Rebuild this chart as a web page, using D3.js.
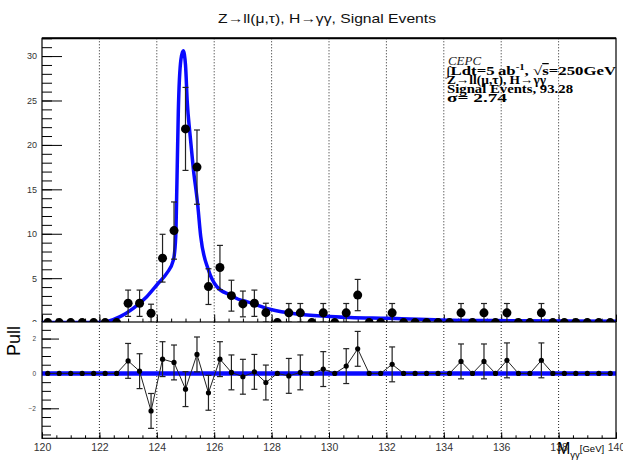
<!DOCTYPE html>
<html><head><meta charset="utf-8">
<script src="https://cdn.jsdelivr.net/npm/d3@7"></script>
<style>
body{margin:0;background:#fff}
svg{display:block}
text{font-family:"Liberation Sans",Arial,sans-serif}
.serif{font-family:"Liberation Serif","Times New Roman",serif}
</style>
</head><body>
<svg id="c" width="623" height="462"></svg>
<script>
// ---- data ----
const binCenters=[120.2,120.6,121.0,121.4,121.8,122.2,122.6,123.0,123.4,123.8,124.2,124.6,125.0,125.4,125.8,126.2,126.6,127.0,127.4,127.8,128.2,128.6,129.0,129.4,129.8,130.2,130.6,131.0,131.4,131.8,132.2,132.6,133.0,133.4,133.8,134.2,134.6,135.0,135.4,135.8,136.2,136.6,137.0,137.4,137.8,138.2,138.6,139.0,139.4,139.8];
const counts=[0,0,0,0,0,0,0,2.18,2.18,1.05,7.25,10.36,21.8,17.5,4.05,6.2,3.03,2.1,2.18,1.12,0,1.1,1.1,0,1.1,0,1.1,3.1,0,0,1.1,0,0,0,0,0,1.1,0,1.1,0,1.1,0,0,1.1,0,0,0,0,0,0];
const countErrors=[0,0,0,0,0,0,0,1.48,1.48,1.02,2.69,3.22,4.67,4.18,2.01,2.49,1.74,1.45,1.48,1.06,0,1.05,1.05,0,1.05,0,1.05,1.76,0,0,1.05,0,0,0,0,0,1.05,0,1.05,0,1.05,0,0,1.05,0,0,0,0,0,0];
const pulls=[0,0,0,0,0,0,0,0.72,0.13,-2.15,0.82,0.63,-0.9,1.09,-1.11,0.82,0.06,-0.19,0.09,-0.52,0,-0.14,0.06,0,0.25,0,0.42,1.41,0,0,0.52,0,0,0,0,0,0.69,0,0.69,0,0.75,0,0,0.75,0,0,0,0,0,0];
const pullErrors=[0,0,0,0,0,0,0,1,1,1,1,1,1,1,1,1,1,1,1,1,0,1,1,0,1,0,1,1,0,0,1,0,0,0,0,0,1,0,1,0,1,0,0,1,0,0,0,0,0,0];
const fitX=[120.0,122.0,122.25,122.72,123.18,123.65,124.05,124.35,124.58,124.66,124.70,124.75,124.84,124.92,125.00,125.06,125.16,125.27,125.42,125.53,125.80,126.09,126.55,126.90,127.13,127.94,128.87,130.03,130.73,132.0,133.87,136.4,140.0];
const fitY=[0,0,0.1,0.67,1.61,2.92,4.43,5.56,7.06,9.7,15.5,23.8,29.6,30.6,29.0,24.9,21.1,17.4,13.45,9.7,5.93,4.05,3.11,2.55,2.36,1.5,0.97,0.7,0.58,0.48,0.29,0.21,0.15];
const xMajorTicks=[120,122,124,126,128,130,132,134,136,138,140];
const yTopMajorTicks=[0,5,10,15,20,25,30];
const yPullMajorTicks=[-2,0,2];
const titleText="Z\u2192ll(\u03bc,\u03c4), H\u2192\u03b3\u03b3, Signal Events";

// ---- layout ----
const svg=d3.select("#c");
const L=42,R=616,T=38.3,Mid=322.6,B=438.3;
const x=d3.scaleLinear().domain([120,140]).range([L,R]);
const y=d3.scaleLinear().domain([0,32]).range([Mid,T]);
const yp=d3.scaleLinear().domain([-3.72,2.95]).range([B,322]);
const blue="#0a0aff";

svg.append("rect").attr("width",623).attr("height",462).attr("fill","#fff");

// title
svg.append("text").attr("x",218).attr("y",22.5)
  .attr("font-size",13).attr("fill","#111")
  .attr("textLength",218).attr("lengthAdjust","spacingAndGlyphs").text(titleText);

// ===== top panel =====
const topG=svg.append("g");
topG.append("defs").append("clipPath").attr("id","clipTop")
  .append("rect").attr("x",L).attr("y",T).attr("width",R-L).attr("height",Mid-T+3);

topG.append("g").selectAll("line").data(xMajorTicks.filter(d=>d>120&&d<140)).join("line")
  .attr("x1",d=>x(d)).attr("x2",d=>x(d)).attr("y1",T).attr("y2",Mid)
  .attr("stroke","#222").attr("stroke-width",1).attr("stroke-dasharray","1,2");

const yMinor=d3.range(0,33,1);
topG.append("g").attr("transform",`translate(${L},0)`)
  .call(d3.axisLeft(y).tickValues(yMinor).tickSize(-10).tickFormat(""))
  .call(g=>g.select(".domain").remove());
topG.append("g").attr("transform",`translate(${L},0)`)
  .call(d3.axisLeft(y).tickValues(yTopMajorTicks).tickSize(-20).tickPadding(5))
  .call(g=>g.select(".domain").remove())
  .call(g=>g.selectAll("text").attr("font-size",9).attr("fill","#333").attr("font-family","Liberation Sans,Arial,sans-serif"));

topG.append("g").attr("transform",`translate(0,${Mid})`)
  .call(d3.axisBottom(x).tickValues(d3.range(120,140.01,0.5)).tickSize(-4).tickFormat(""))
  .call(g=>g.select(".domain").remove());
topG.append("g").attr("transform",`translate(0,${Mid})`)
  .call(d3.axisBottom(x).tickValues(xMajorTicks).tickSize(-8).tickFormat(""))
  .call(g=>g.select(".domain").remove());

const line=d3.line().x((d,i)=>x(fitX[i])).y(d=>y(d)).curve(d3.curveMonotoneX);
topG.append("path").datum(fitY).attr("d",line).attr("fill","none")
  .attr("stroke",blue).attr("stroke-width",3.5).attr("clip-path","url(#clipTop)");

const pts=binCenters.map((c,i)=>({x:c,v:counts[i],e:countErrors[i]}));
const eb=topG.append("g").attr("stroke","#222").attr("stroke-width",1.2);
pts.filter(d=>d.e>0).forEach(d=>{
  eb.append("line").attr("x1",x(d.x)).attr("x2",x(d.x)).attr("y1",y(d.v-d.e)).attr("y2",y(d.v+d.e));
  eb.append("line").attr("x1",x(d.x)-3).attr("x2",x(d.x)+3).attr("y1",y(d.v+d.e)).attr("y2",y(d.v+d.e));
  eb.append("line").attr("x1",x(d.x)-3).attr("x2",x(d.x)+3).attr("y1",y(d.v-d.e)).attr("y2",y(d.v-d.e));
});
topG.append("g").selectAll("circle").data(pts).join("circle")
  .attr("cx",d=>x(d.x)).attr("cy",d=>y(d.v)).attr("r",4.5).attr("fill","#000");

topG.append("rect").attr("x",L).attr("y",T).attr("width",R-L).attr("height",Mid-T)
  .attr("fill","none").attr("stroke","#000").attr("stroke-width",1.2);
topG.append("line").attr("x1",L).attr("x2",R).attr("y1",T).attr("y2",T).attr("stroke","#000").attr("stroke-width",2);

// legend text
const lg=svg.append("g").attr("fill","#000");
lg.append("text").attr("x",448).attr("y",65).attr("font-size",12.5).attr("font-style","italic")
  .attr("class","serif").attr("fill","#222").attr("textLength",33).attr("lengthAdjust","spacingAndGlyphs").text("CEPC");
const l2=lg.append("text").attr("x",446).attr("y",75).attr("font-size",12.5).attr("font-weight","bold").attr("class","serif")
  .attr("textLength",170).attr("lengthAdjust","spacingAndGlyphs");
l2.append("tspan").attr("font-weight","normal").text("\u222b");
l2.append("tspan").text("Ldt=5\u2009ab");
l2.append("tspan").attr("font-size",8).attr("dy",-5).text("-1");
l2.append("tspan").attr("dy",5).text(",   ");
l2.append("tspan").attr("font-weight","normal").text("\u221a");
l2.append("tspan").attr("style","text-decoration:overline").text("s");
l2.append("tspan").text("=250GeV");
lg.append("text").attr("x",447).attr("y",84.3).attr("font-size",12.5).attr("font-weight","bold").attr("class","serif")
  .attr("textLength",99).attr("lengthAdjust","spacingAndGlyphs")
  .text("Z\u2192ll(\u03bc,\u03c4), H\u2192\u03b3\u03b3");
lg.append("text").attr("x",447).attr("y",93.3).attr("font-size",12.5).attr("font-weight","bold").attr("class","serif")
  .attr("textLength",126).attr("lengthAdjust","spacingAndGlyphs")
  .text("Signal Events, 93.28");
lg.append("text").attr("x",447).attr("y",102.3).attr("font-size",12.5).attr("font-weight","bold").attr("class","serif")
  .attr("textLength",60).attr("lengthAdjust","spacingAndGlyphs")
  .text("\u03c3=  2.74");

// ===== bottom panel =====
svg.append("rect").attr("x",0).attr("y",322).attr("width",623).attr("height",140).attr("fill","#fff");
const bot=svg.append("g");

bot.append("g").selectAll("line").data(xMajorTicks.filter(d=>d>120&&d<140)).join("line")
  .attr("x1",d=>x(d)).attr("x2",d=>x(d)).attr("y1",322).attr("y2",B)
  .attr("stroke","#222").attr("stroke-width",1).attr("stroke-dasharray","1,2");

bot.append("g").attr("transform",`translate(${L},0)`)
  .call(d3.axisLeft(yp).tickValues(d3.range(-3.5,2.51,0.5)).tickSize(-9).tickFormat(""))
  .call(g=>g.select(".domain").remove());
bot.append("g").attr("transform",`translate(${L},0)`)
  .call(d3.axisLeft(yp).tickValues(yPullMajorTicks).tickSize(-17).tickPadding(6).tickFormat(d3.format("d")))
  .call(g=>g.select(".domain").remove())
  .call(g=>g.selectAll("text").attr("font-size",6.5).attr("fill","#444").attr("font-family","Liberation Sans,Arial,sans-serif"));

bot.append("g").attr("transform",`translate(0,${B})`)
  .call(d3.axisBottom(x).tickValues(d3.range(120,140.01,0.5)).tickSize(-3).tickFormat(""))
  .call(g=>g.select(".domain").remove());
bot.append("g").attr("transform",`translate(0,${B})`)
  .call(d3.axisBottom(x).tickValues(xMajorTicks).tickSize(-6).tickPadding(5))
  .call(g=>g.select(".domain").remove())
  .call(g=>g.selectAll("text").attr("font-size",10.5).attr("fill","#333").attr("font-family","Liberation Sans,Arial,sans-serif"));

bot.append("line").attr("x1",L).attr("x2",R).attr("y1",yp(0)).attr("y2",yp(0))
  .attr("stroke",blue).attr("stroke-width",4.5);

const pp=binCenters.map((c,i)=>({x:c,v:pulls[i],e:pullErrors[i]}));
bot.append("path").datum(pp).attr("d",d3.line().x(d=>x(d.x)).y(d=>yp(d.v)))
  .attr("fill","none").attr("stroke","#222").attr("stroke-width",1);
const peb=bot.append("g").attr("stroke","#222").attr("stroke-width",1.2);
pp.filter(d=>d.e>0).forEach(d=>{
  peb.append("line").attr("x1",x(d.x)).attr("x2",x(d.x)).attr("y1",yp(d.v-d.e)).attr("y2",yp(d.v+d.e));
  peb.append("line").attr("x1",x(d.x)-3).attr("x2",x(d.x)+3).attr("y1",yp(d.v+d.e)).attr("y2",yp(d.v+d.e));
  peb.append("line").attr("x1",x(d.x)-3).attr("x2",x(d.x)+3).attr("y1",yp(d.v-d.e)).attr("y2",yp(d.v-d.e));
});
bot.append("g").selectAll("circle").data(pp).join("circle")
  .attr("cx",d=>x(d.x)).attr("cy",d=>yp(d.v)).attr("r",2.6).attr("fill","#000");

bot.append("rect").attr("x",L).attr("y",322).attr("width",R-L).attr("height",B-322)
  .attr("fill","none").attr("stroke","#000").attr("stroke-width",1.2);

svg.append("text").attr("transform","translate(20,341) rotate(-90)").attr("text-anchor","middle")
  .attr("font-size",18).attr("fill","#000").text("Pull");
const xt=svg.append("text").attr("x",557).attr("y",454).attr("font-size",16).attr("fill","#000");
xt.append("tspan").text("M");
xt.append("tspan").attr("font-size",9.5).attr("dy",4).text("\u03b3\u03b3");
xt.append("tspan").attr("font-size",9.5).attr("dy",-6).text("[GeV]");
</script>
</body></html>
